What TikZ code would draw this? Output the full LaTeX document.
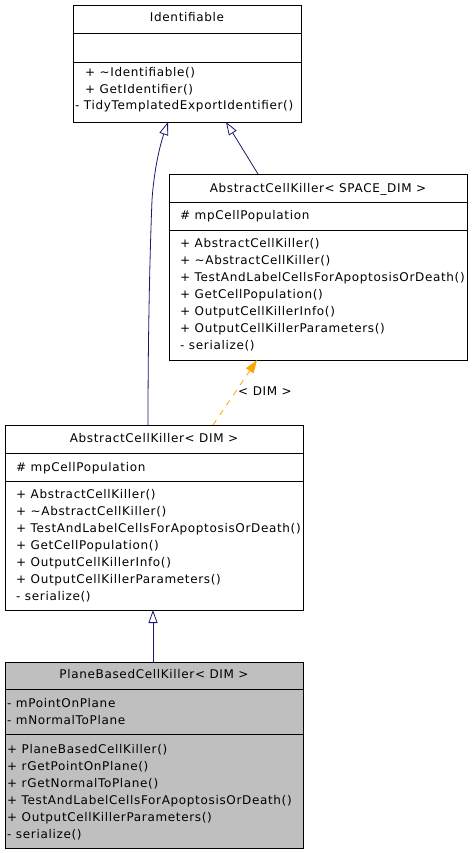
\documentclass[tikz,border=0pt]{standalone}
\usepackage{fontspec}
\setmainfont[LetterSpace=5.5]{DejaVu Sans}
\usetikzlibrary{arrows.meta}
\definecolor{edgeblue}{HTML}{191970}
\definecolor{edgeorange}{HTML}{FFA500}
\definecolor{boxgray}{HTML}{BFBFBF}
\tikzset{
  classbox/.style={draw=black, line width=0.8pt, fill=white, inner sep=0pt},
  txt/.style={anchor=base west, inner sep=0pt, font=\fontsize{12}{14}\selectfont},
  ttl/.style={anchor=base, inner sep=0pt, font=\fontsize{12}{14}\selectfont},
  divider/.style={draw=black, line width=0.8pt},
  inherit/.style={draw=edgeblue, line width=0.8pt, -{Triangle[open, length=13pt, width=9pt, fill=white]}},
  templ/.style={draw=edgeorange, line width=0.8pt, dash pattern=on 6pt off 6pt, -{Triangle[length=13pt, width=9pt]}},
}
\begin{document}
\begin{tikzpicture}[x=1pt, y=-1pt]
\useasboundingbox (0,0) rectangle (471,853);

% ---------- Identifiable ----------
\node[classbox, minimum width=228pt, minimum height=117pt] (ident) at (187,63.5) {};
\draw[divider] (73,33) -- (301,33);
\draw[divider] (73,62) -- (301,62);
\node[ttl] (identT) at (187,22) {Identifiable};
\node[txt] (identM1) at (85,77) {+ \textasciitilde Identifiable()};
\node[txt] (identM2) at (85,94) {+ GetIdentifier()};
\node[txt] (identM3) at (75,110) {- TidyTemplatedExportIdentifier()};

% ---------- AbstractCellKiller< SPACE_DIM > ----------
\node[classbox, minimum width=298pt, minimum height=186pt] (acks) at (318,267) {};
\draw[divider] (169,202) -- (467,202);
\draw[divider] (169,230) -- (467,230);
\node[ttl] (acksT) at (318,192) {AbstractCellKiller< SPACE\_DIM >};
\node[txt] (acksA1) at (180,219) {\# mpCellPopulation};
\foreach \t [count=\i] in {+ AbstractCellKiller(), + \textasciitilde AbstractCellKiller(), + TestAndLabelCellsForApoptosisOrDeath(), + GetCellPopulation(), + OutputCellKillerInfo(), + OutputCellKillerParameters(), - serialize()}
  \node[txt] (acksM\i) at (180,230+17*\i) {\t};

% ---------- AbstractCellKiller< DIM > ----------
\node[classbox, minimum width=298pt, minimum height=185pt] (ackd) at (154,517.5) {};
\draw[divider] (5,453) -- (303,453);
\draw[divider] (5,481) -- (303,481);
\node[ttl] (ackdT) at (154,442) {AbstractCellKiller< DIM >};
\node[txt] (ackdA1) at (16,471) {\# mpCellPopulation};
\foreach \t [count=\i] in {+ AbstractCellKiller(), + \textasciitilde AbstractCellKiller(), + TestAndLabelCellsForApoptosisOrDeath(), + GetCellPopulation(), + OutputCellKillerInfo(), + OutputCellKillerParameters(), - serialize()}
  \node[txt] (ackdM\i) at (16,481.5+17*\i) {\t};

% ---------- PlaneBasedCellKiller< DIM > ----------
\node[classbox, fill=boxgray, minimum width=298pt, minimum height=186pt] (pbck) at (154,755) {};
\draw[divider] (5,689) -- (303,689);
\draw[divider] (5,734) -- (303,734);
\node[ttl] (pbckT) at (154,678) {PlaneBasedCellKiller< DIM >};
\node[txt] (pbckA1) at (7,707) {- mPointOnPlane};
\node[txt] (pbckA2) at (7,724) {- mNormalToPlane};
\foreach \t [count=\i] in {+ PlaneBasedCellKiller(), + rGetPointOnPlane(), + rGetNormalToPlane(), + TestAndLabelCellsForApoptosisOrDeath(), + OutputCellKillerParameters(), - serialize()}
  \node[txt] (pbckM\i) at (7,736+17*\i) {\t};

% ---------- connectors ----------
\coordinate (e1s) at (148,425);
\coordinate (e1m) at (152,200);
\coordinate (e1t) at (168,122);
\draw[inherit] (e1s) .. controls (148,330) and (150,250) .. (e1m) .. controls (154,170) and (160,145) .. (e1t);

\coordinate (e2s) at (258,174);
\coordinate (e2t) at (226,122);
\draw[inherit] (e2s) -- (e2t);

\coordinate (e3s) at (213,425);
\coordinate (e3t) at (257,360);
\draw[templ] (e3s) -- (e3t);
\node[ttl] (e3l) at (265,395) {< DIM >};

\coordinate (e4s) at (153,662);
\coordinate (e4t) at (153,610);
\draw[inherit] (e4s) -- (e4t);
\end{tikzpicture}
\end{document}
